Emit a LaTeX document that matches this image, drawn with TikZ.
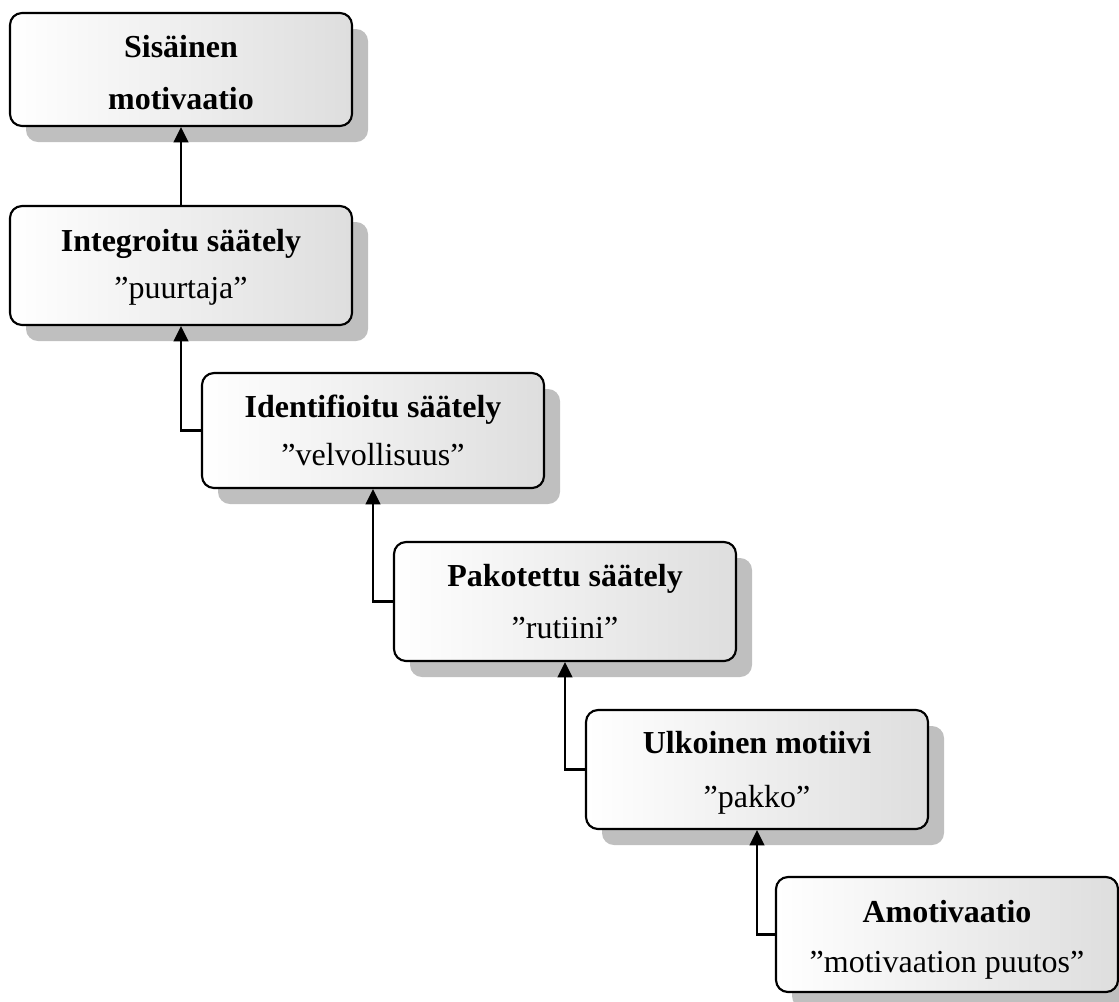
\documentclass[tikz,border=0pt]{standalone}
\usepackage{fontspec}
\setmainfont{Liberation Serif}
\usetikzlibrary{shadows,arrows.meta}
\begin{document}
\begin{tikzpicture}[x=0.75pt,y=-0.75pt,
  stagebox/.style={rounded corners=9pt, draw=black, line width=1.6pt,
    left color=white, right color=black!13,
    minimum width=256.5pt,
    drop shadow={shadow xshift=12pt, shadow yshift=-12pt, fill=black!25, opacity=1}},
  head/.style={anchor=base, font=\fontsize{24}{28}\selectfont\bfseries, inner sep=0pt},
  quote/.style={anchor=base, font=\fontsize{24}{28}\selectfont, inner sep=0pt},
  arr/.style={line width=1.6pt, -{Triangle[length=11.5pt, width=11pt]}}]
\useasboundingbox (0,0) rectangle (1119,1001);
\clip (0,0) rectangle (1119,1001);

% stage boxes
\node[stagebox, minimum height=84.75pt] (b1) at (181,69.5) {};
\node[stagebox, minimum height=89.25pt] (b2) at (181,265.5) {};
\node[stagebox, minimum height=86.25pt] (b3) at (373,430.5) {};
\node[stagebox, minimum height=89.25pt] (b4) at (565,601.5) {};
\node[stagebox, minimum height=89.25pt] (b5) at (757,769.5) {};
\node[stagebox, minimum height=86.25pt] (b6) at (947,934.5) {};

% labels
\node[head]  (h1) at (181,57)  {Sisäinen};
\node[head]  (q1) at (181,109) {motivaatio};
\node[head]  (h2) at (181,251) {Integroitu säätely};
\node[quote] (q2) at (181,298) {”puurtaja”};
\node[head]  (h3) at (373,417) {Identifioitu säätely};
\node[quote] (q3) at (373,465) {”velvollisuus”};
\node[head]  (h4) at (565,586) {Pakotettu säätely};
\node[quote] (q4) at (565,638) {”rutiini”};
\node[head]  (h5) at (757,753) {Ulkoinen motiivi};
\node[quote] (q5) at (757,807) {”pakko”};
\node[head]  (h6) at (947,922) {Amotivaatio};
\node[quote] (q6) at (947,972) {”motivaation puutos”};

% connectors
\draw[arr] (b2.north) -- (b1.south);
\draw[arr] (b3.west) -| (b2.south);
\draw[arr] (b4.west) -| (b3.south);
\draw[arr] (b5.west) -| (b4.south);
\draw[arr] (b6.west) -| (b5.south);
\end{tikzpicture}
\end{document}
